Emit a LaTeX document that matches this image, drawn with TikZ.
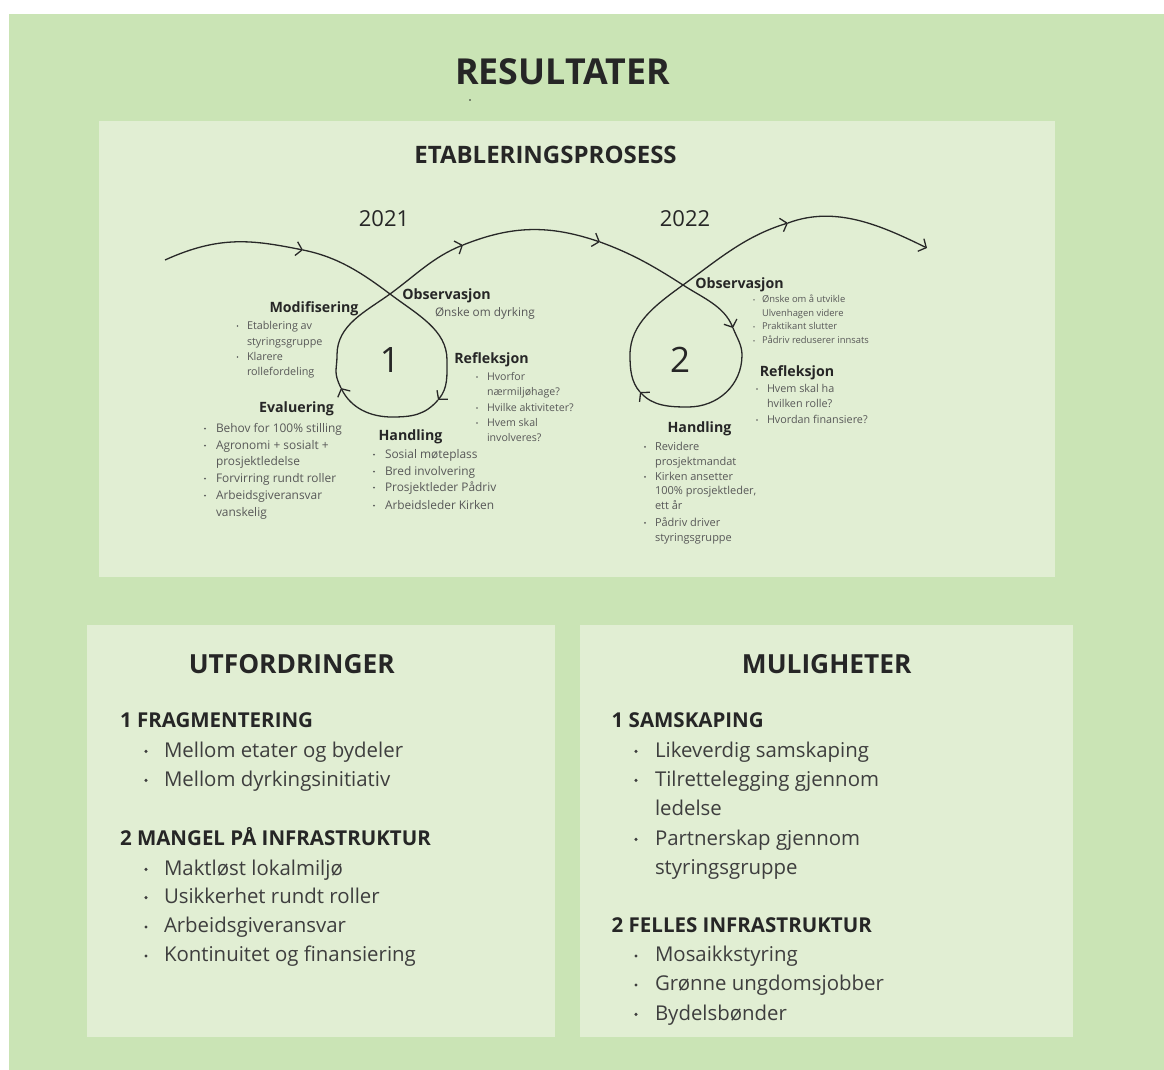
\documentclass[tikz,border=0pt]{standalone}
\usepackage{fontspec}
\setmainfont{Open Sans}
\usetikzlibrary{arrows.meta}
\definecolor{bgout}{RGB}{202,228,181}
\definecolor{bgin}{RGB}{225,238,211}
\definecolor{ink}{RGB}{38,38,38}
\definecolor{soft}{RGB}{88,88,88}
\definecolor{itemc}{RGB}{62,62,62}
\definecolor{curvec}{RGB}{40,40,40}
\newcounter{lnc}
\newcommand\fs[1]{\fontsize{#1}{#1}\selectfont}
\newcommand\TL[5]{\stepcounter{lnc}\edef\nm{t\arabic{lnc}}\node[#1,font=#2] (\nm) at (#3,#4) {#5};}
\newcommand\BI[6]{\TL{#1}{\fs{#2}}{#3}{#4}{#5}\fill[#1] ([xshift=-#6pt,yshift={0.28*#2pt}]\nm.base west) circle ({0.085*#2pt});}
\tikzset{
  txt/.style={anchor=base west, inner sep=0pt, outer sep=0pt},
  hdc/.style={txt, anchor=base, color=ink},
  hdl/.style={txt, color=ink},
  itm/.style={txt, color=itemc},
  sm/.style={txt, color=soft},
  curve/.style={draw=curvec, line width=1.3pt},
  tip/.tip={Straight Barb[length=6pt,width=14pt]},
}
\begin{document}
\begin{tikzpicture}[x=1pt,y=-1pt]
\useasboundingbox (0,0) rectangle (1164,1070);
\fill[white] (0,0) rectangle (1164,1070);
\fill[bgout] (9,14) rectangle (1164,1070);
\fill[bgin] (99,121) rectangle (1055,577);
\fill[bgin] (87,625) rectangle (555,1037);
\fill[bgin] (580,625) rectangle (1073,1037);

% titles
\TL{hdc}{\fs{35.8}\bfseries}{562.5}{84.3}{RESULTATER}
\fill[ink] (470,100) circle (0.8);
\TL{hdc}{\fs{24}\bfseries}{545.5}{163.3}{ETABLERINGSPROSESS}
\TL{hdc}{\fs{22}}{384}{226}{2021}
\TL{hdc}{\fs{22}}{685}{226}{2022}
\TL{hdc}{\fs{35}}{390}{372}{1}
\TL{hdc}{\fs{35}}{680}{372}{2}

% curve
\coordinate (p0) at (165,260);
\coordinate (a1) at (303,250);
\coordinate (c1) at (390,294);
\coordinate (r1) at (447,360);
\coordinate (a2) at (438,400);
\coordinate (b1) at (392,417);
\coordinate (a3) at (341,388);
\coordinate (l1) at (337,355);
\coordinate (a4) at (463,245);
\coordinate (a5) at (600,242);
\coordinate (c2) at (683,285);
\coordinate (a6) at (733,328);
\coordinate (r2) at (742,355);
\coordinate (b2) at (688,407);
\coordinate (a7) at (640,392);
\coordinate (l2) at (630,355);
\coordinate (a8) at (788,223);
\coordinate (e) at (927,248);
\draw[curve,-{tip}] (p0) .. controls +(55,-25) and +(-50,-10) .. (a1);
\draw[curve,-{tip}] (a1) .. controls +(35,7) and +(-28,-21) .. (c1) .. controls +(28,21) and +(0,-30) .. (r1) .. controls +(0,16) and +(10,-12) .. (a2);
\draw[curve,-{tip}] (a2) .. controls +(-13,15) and +(20,0) .. (b1) .. controls +(-22,0) and +(10,20) .. (a3);
\draw[curve,-{tip}] (a3) .. controls +(-8,-16) and +(0,15) .. (l1) .. controls +(0,-30) and +(-25,18) .. (c1) .. controls +(26,-19) and +(-30,12) .. (a4);
\draw[curve,-{tip}] (a4) .. controls +(50,-20) and +(-50,-17) .. (a5);
\draw[curve,-{tip}] (a5) .. controls +(33,12) and +(-28,-18) .. (c2) .. controls +(20,13) and +(-9,-22) .. (a6);
\draw[curve,-{tip}] (a6) .. controls +(4,10) and +(0,-10) .. (r2) .. controls +(0,30) and +(30,0) .. (b2) .. controls +(-19,0) and +(13,14) .. (a7);
\draw[curve,-{tip}] (a7) .. controls +(-9,-10) and +(0,14) .. (l2) .. controls +(0,-32) and +(-26,19) .. (c2) .. controls +(36,-26) and +(-43,13) .. (a8);
\draw[curve,-{tip}] (a8) .. controls +(48,-18) and +(-45,-22) .. (e);

% loop 1 labels
\TL{hdc}{\fs{14.2}\bfseries}{314}{312.5}{Modifisering}
\BI{sm}{10.8}{247}{329}{Etablering av}{9.5}
\TL{sm}{\fs{10.8}}{247}{345}{styringsgruppe}
\BI{sm}{10.8}{247}{360}{Klarere}{9.5}
\TL{sm}{\fs{10.8}}{247}{375}{rollefordeling}

\TL{hdc}{\fs{14.2}\bfseries}{446.5}{299.5}{Observasjon}
\TL{sm}{\fs{11.8}}{435}{316}{Ønske om dyrking}

\TL{hdc}{\fs{14.2}\bfseries}{491.5}{363.5}{Refleksjon}
\BI{sm}{10.6}{487}{380}{Hvorfor}{10}
\TL{sm}{\fs{10.6}}{487}{395}{nærmiljøhage?}
\BI{sm}{10.6}{487}{411}{Hvilke aktiviteter?}{10}
\BI{sm}{10.6}{487}{426}{Hvem skal}{10}
\TL{sm}{\fs{10.6}}{487}{441}{involveres?}

\TL{hdc}{\fs{14.2}\bfseries}{296.5}{412.5}{Evaluering}
\BI{sm}{11.9}{216}{432}{Behov for 100\% stilling}{11}
\BI{sm}{11.9}{216}{449}{Agronomi + sosialt +}{11}
\TL{sm}{\fs{11.9}}{216}{465}{prosjektledelse}
\BI{sm}{11.9}{216}{482}{Forvirring rundt roller}{11}
\BI{sm}{11.9}{216}{499}{Arbeidsgiveransvar}{11}
\TL{sm}{\fs{11.9}}{216}{516}{vanskelig}

\TL{hdc}{\fs{14.2}\bfseries}{410.5}{440.5}{Handling}
\BI{sm}{11.9}{385}{458}{Sosial møteplass}{11}
\BI{sm}{11.9}{385}{475}{Bred involvering}{11}
\BI{sm}{11.9}{385}{491}{Prosjektleder Pådriv}{11}
\BI{sm}{11.9}{385}{509}{Arbeidsleder Kirken}{11}

% loop 2 labels
\TL{hdc}{\fs{14.2}\bfseries}{739.5}{288.5}{Observasjon}
\BI{sm}{9.4}{762}{302.5}{Ønske om å utvikle}{8}
\TL{sm}{\fs{9.4}}{762}{316.5}{Ulvenhagen videre}
\BI{sm}{9.4}{762}{329.5}{Praktikant slutter}{8}
\BI{sm}{9.4}{762}{343.5}{Pådriv reduserer innsats}{8}

\TL{hdc}{\fs{14.2}\bfseries}{797}{376.5}{Refleksjon}
\BI{sm}{10.8}{767}{392}{Hvem skal ha}{10}
\TL{sm}{\fs{10.8}}{767}{407}{hvilken rolle?}
\BI{sm}{10.8}{767}{423}{Hvordan finansiere?}{10}

\TL{hdc}{\fs{14.2}\bfseries}{699.5}{432.5}{Handling}
\BI{sm}{11}{655}{450}{Revidere}{10}
\TL{sm}{\fs{11}}{655}{465}{prosjektmandat}
\BI{sm}{11}{655}{480}{Kirken ansetter}{10}
\TL{sm}{\fs{11}}{655}{494}{100\% prosjektleder,}
\TL{sm}{\fs{11}}{655}{509}{ett år}
\BI{sm}{11}{655}{526}{Pådriv driver}{10}
\TL{sm}{\fs{11}}{655}{541}{styringsgruppe}

% Utfordringer
\TL{hdc}{\fs{26.3}\bfseries}{291.7}{673.3}{UTFORDRINGER}
\TL{hdl}{\fs{20.5}\bfseries}{120}{727}{1 FRAGMENTERING}
\BI{itm}{20.4}{164}{757}{Mellom etater og bydeler}{18}
\BI{itm}{20.4}{164}{786}{Mellom dyrkingsinitiativ}{18}
\TL{hdl}{\fs{20.5}\bfseries}{120}{845}{2 MANGEL PÅ INFRASTRUKTUR}
\BI{itm}{20.4}{164}{875}{Maktløst lokalmiljø}{18}
\BI{itm}{20.4}{164}{903.3}{Usikkerhet rundt roller}{18}
\BI{itm}{20.4}{164}{932.7}{Arbeidsgiveransvar}{18}
\BI{itm}{20.4}{164}{961.7}{Kontinuitet og finansiering}{18}

% Muligheter
\TL{hdc}{\fs{26.3}\bfseries}{826.7}{673.3}{MULIGHETER}
\TL{hdl}{\fs{20.5}\bfseries}{611.7}{727}{1 SAMSKAPING}
\BI{itm}{20.4}{655}{757}{Likeverdig samskaping}{19}
\BI{itm}{20.4}{655}{786}{Tilrettelegging gjennom}{19}
\TL{itm}{\fs{20.4}}{655}{815}{ledelse}
\BI{itm}{20.4}{655}{845}{Partnerskap gjennom}{19}
\TL{itm}{\fs{20.4}}{655}{874}{styringsgruppe}
\TL{hdl}{\fs{20.5}\bfseries}{611.7}{932.3}{2 FELLES INFRASTRUKTUR}
\BI{itm}{20.4}{655}{961.7}{Mosaikkstyring}{19}
\BI{itm}{20.4}{655}{990.7}{Grønne ungdomsjobber}{19}
\BI{itm}{20.4}{655}{1020}{Bydelsbønder}{19}
\end{tikzpicture}
\end{document}
